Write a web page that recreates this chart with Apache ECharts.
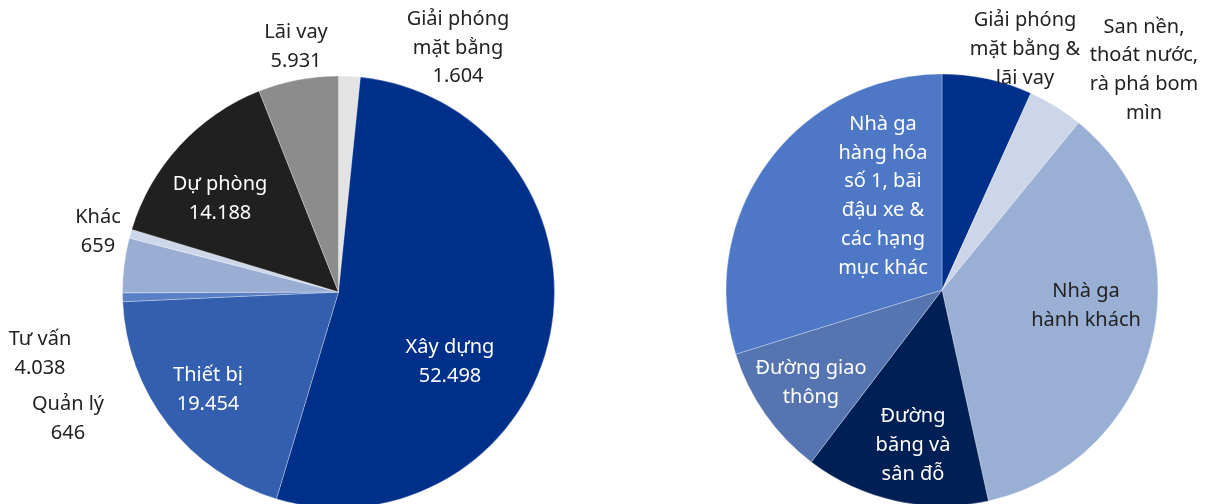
<!DOCTYPE html>
<html>
<head>
<meta charset="utf-8">
<script src="https://cdn.jsdelivr.net/npm/echarts@6/dist/echarts.min.js"></script>
<style>
html,body{margin:0;padding:0;background:#fff;}
#chart{width:1208px;height:504px;}
</style>
</head>
<body>
<div id="chart"></div>
<script>
// Left pie: total investment breakdown
var leftNames = ['Giải phóng\nmặt bằng', 'Xây dựng', 'Thiết bị', 'Quản lý', 'Tư vấn', 'Khác', 'Dự phòng', 'Lãi vay'];
var leftValues = [1604, 52498, 19454, 646, 4038, 659, 14188, 5931];
var leftColors = ['#e3e3e3', '#00308a', '#345fae', '#5a7fc4', '#9aaed4', '#cdd7ea', '#202020', '#8c8c8c'];
var leftInside = [false, true, true, false, false, false, true, false];
var leftLabelPos = [[458, 48], [450, 362], [208, 390], [68, 419], [40, 354], [98, 232], [220, 199], [296, 47]];

// Right pie: construction breakdown (shares, %)
var rightNames = ['Giải phóng\nmặt bằng &\nlãi vay', 'San nền,\nthoát nước,\nrà phá bom\nmìn', 'Nhà ga\nhành khách', 'Đường\nbăng và\nsân đỗ', 'Đường giao\nthông', 'Nhà ga\nhàng hóa\nsố 1, bãi\nđậu xe &\ncác hạng\nmục khác'];
var rightValues = [6.75, 4.15, 35.65, 13.8, 9.85, 29.8];
var rightColors = ['#00308a', '#cdd6e8', '#9aafd4', '#001f54', '#5574b0', '#4e78c6'];
var rightInside = [false, false, false, true, true, true];
var rightLabelPos = [[1025, 49], [1144, 70], [1086, 306], [913, 445], [811, 383], [883, 196]];

function fmt(v) {
  return String(v).replace(/\B(?=(\d{3})+(?!\d))/g, '.');
}

var FONT = 'Noto Sans';

function buildData(names, values, colors, inside) {
  return names.map(function (n, i) {
    return {
      name: n,
      value: values[i],
      itemStyle: { color: colors[i] },
      label: { color: inside[i] ? '#ffffff' : '#222222' }
    };
  });
}

var chart = echarts.init(document.getElementById('chart'));
chart.setOption({
  animation: false,
  backgroundColor: '#ffffff',
  series: [
    {
      type: 'pie',
      center: [338.5, 292],
      radius: 216,
      startAngle: 90,
      clockwise: true,
      avoidLabelOverlap: false,
      itemStyle: { borderColor: 'rgba(255,255,255,0.6)', borderWidth: 0.5 },
      label: {
        show: true,
        fontFamily: FONT,
        fontSize: 20,
        lineHeight: 28.5,
        align: 'center',
        formatter: function (p) { return p.name + '\n' + fmt(p.value); }
      },
      labelLine: { show: false },
      labelLayout: function (p) {
        var pos = leftLabelPos[p.dataIndex];
        return { x: pos[0], y: pos[1], align: 'center', verticalAlign: 'middle' };
      },
      data: buildData(leftNames, leftValues, leftColors, leftInside)
    },
    {
      type: 'pie',
      center: [942, 290],
      radius: 216,
      startAngle: 90,
      clockwise: true,
      avoidLabelOverlap: false,
      itemStyle: { borderColor: 'rgba(255,255,255,0.6)', borderWidth: 0.5 },
      label: {
        show: true,
        fontFamily: FONT,
        fontSize: 20,
        lineHeight: 28.8,
        align: 'center',
        formatter: '{b}'
      },
      labelLine: { show: false },
      labelLayout: function (p) {
        var pos = rightLabelPos[p.dataIndex];
        return { x: pos[0], y: pos[1], align: 'center', verticalAlign: 'middle' };
      },
      data: buildData(rightNames, rightValues, rightColors, rightInside)
    }
  ]
});
</script>
</body>
</html>
